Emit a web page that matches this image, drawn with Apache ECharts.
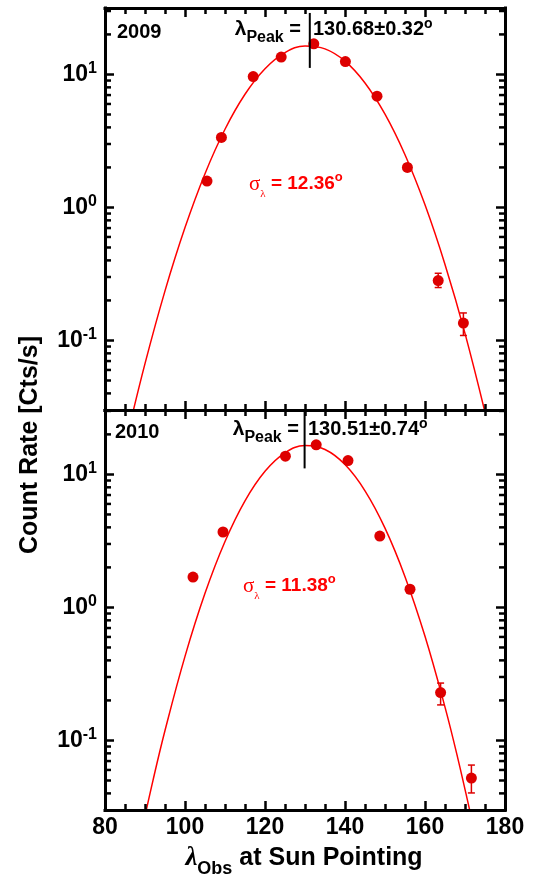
<!DOCTYPE html>
<html><head><meta charset="utf-8">
<script src="https://cdn.jsdelivr.net/npm/echarts@6/dist/echarts.min.js"></script>
<style>html,body{margin:0;padding:0;background:#fff}#c{width:533px;height:876px}</style>
</head><body><div id="c"></div>
<script>
// ---- data ----
const xTickValues = [80, 100, 120, 140, 160, 180];
const yDecadeLabels = ['10^-1', '10^0', '10^1'];

// 2009 panel
const x2009 = [105.5, 109.1, 117.05, 124.05, 132.2, 140.1, 148.0, 155.6, 163.3, 169.6];
const y2009 = [1.58, 3.36, 9.65, 13.5, 17.0, 12.5, 6.86, 2.0, 0.282, 0.135];
const lo2009 = [1.52, 3.26, 9.4, 13.2, 16.6, 12.2, 6.7, 1.88, 0.25, 0.109];
const hi2009 = [1.64, 3.46, 9.9, 13.8, 17.4, 12.8, 7.0, 2.12, 0.32, 0.161];
const fitX2009 = [86, 90, 95, 100, 105, 110, 115, 120, 125, 130, 135, 140, 145, 150, 155, 160, 165, 170, 176];
const fitY2009 = [0.0217, 0.0670, 0.236, 0.706, 1.795, 3.873, 7.096, 11.04, 14.59, 16.35, 15.56, 12.59, 8.63, 5.03, 2.49, 1.046, 0.373, 0.113, 0.0217];
const peakX2009 = 131.2;
const peakY2009 = [29.0, 11.2];

// 2010 panel
const x2010 = [102.0, 109.5, 125.1, 132.8, 140.75, 148.7, 156.25, 163.9, 171.6];
const y2010 = [1.69, 3.69, 13.7, 16.7, 12.7, 3.44, 1.37, 0.229, 0.0521];
const lo2010 = [1.63, 3.58, 13.4, 16.4, 12.4, 3.34, 1.31, 0.185, 0.0403];
const hi2010 = [1.75, 3.80, 14.0, 17.0, 13.0, 3.54, 1.43, 0.270, 0.0653];
const fitX2010 = [89, 92, 95, 100, 105, 110, 115, 120, 125, 130, 135, 140, 145, 150, 155, 160, 165, 168, 172];
const fitY2010 = [0.0197, 0.0501, 0.1187, 0.4285, 1.276, 3.130, 6.331, 10.56, 14.53, 16.47, 15.39, 11.86, 7.53, 3.947, 1.704, 0.6067, 0.1781, 0.0778, 0.02314];
const peakX2010 = 129.9;
const peakY2010 = [30.5, 11.1];

// ---- styling / layout ----
const F = "'Liberation Sans', Arial, Helvetica, sans-serif";
const SERIF = "'Liberation Serif', 'DejaVu Serif', serif";
const RED = '#ff0000';
const DOT = '#dd0000';
const yRanges = [[0.03, 31.6], [0.03, 30.5]];

function zip(a, b) { return a.map((v, i) => [v, b[i]]); }
function zip3(a, b, c) { return a.map((v, i) => [v, b[i], c[i]]); }

function axLine() { return { show: true, onZero: false, lineStyle: { color: '#000', width: 3, cap: 'square' } }; }

function xAxisDef(gridIndex, position, labels) {
  return {
    type: 'value', gridIndex, position, min: 80, max: 180, interval: 20, z: 10,
    axisLine: axLine(),
    axisTick: { show: true, inside: true, length: 9, lineStyle: { color: '#000', width: 2.5 } },
    minorTick: { show: true, splitNumber: 4, length: 6, lineStyle: { color: '#000', width: 2.5 } },
    splitLine: { show: false }, minorSplitLine: { show: false },
    axisLabel: labels ? { show: true, margin: 6, fontSize: 23, fontWeight: 'bold', fontFamily: F, color: '#000' } : { show: false }
  };
}
function yLabelFmt(v) {
  const e = Math.log10(v), r = Math.round(e);
  if (Math.abs(e - r) > 1e-6) return '';
  return '{b|10}{s|' + (r < 0 ? '-' : '') + Math.abs(r) + '}';
}
function yAxisDef(gridIndex, position, range, labels) {
  return {
    type: 'log', logBase: 10, gridIndex, position, min: range[0], max: range[1], z: 10,
    axisLine: axLine(),
    axisTick: { show: true, inside: true, length: 9, lineStyle: { color: '#000', width: 2.5 } },
    splitLine: { show: false },
    axisLabel: labels ? {
      show: true, margin: 8, formatter: yLabelFmt, showMinLabel: false, showMaxLabel: false,
      rich: {
        b: { fontSize: 23, fontWeight: 'bold', fontFamily: F, color: '#000' },
        s: { fontSize: 16, fontWeight: 'bold', fontFamily: F, color: '#000', padding: [0, 0, 12, 0] }
      }
    } : { show: false }
  };
}

function errorSeries(xi, yi, data) {
  return {
    type: 'custom', xAxisIndex: xi, yAxisIndex: yi, data, z: 3,
    encode: { x: 0, y: [1, 2] },
    renderItem: (params, api) => {
      const x = api.value(0);
      const p1 = api.coord([x, api.value(1)]), p2 = api.coord([x, api.value(2)]);
      const w = 3.5, st = { stroke: DOT, lineWidth: 1.5 };
      return { type: 'group', children: [
        { type: 'line', shape: { x1: p1[0], y1: p1[1], x2: p2[0], y2: p2[1] }, style: st },
        { type: 'line', shape: { x1: p1[0] - w, y1: p1[1], x2: p1[0] + w, y2: p1[1] }, style: st },
        { type: 'line', shape: { x1: p2[0] - w, y1: p2[1], x2: p2[0] + w, y2: p2[1] }, style: st }
      ] };
    }
  };
}
function panelSeries(xi, yi, fx, fy, px, py, lo, hi, peakX, peakY) {
  return [
    { type: 'line', xAxisIndex: xi, yAxisIndex: yi, data: zip(fx, fy), smooth: 0.4, showSymbol: false, clip: true,
      lineStyle: { color: RED, width: 1.5 }, z: 2 },
    errorSeries(xi, yi, zip3(px, lo, hi)),
    { type: 'scatter', xAxisIndex: xi, yAxisIndex: yi, data: zip(px, py), symbol: 'circle', symbolSize: 11,
      itemStyle: { color: DOT, opacity: 1 }, z: 4 },
    { type: 'line', xAxisIndex: xi, yAxisIndex: yi, data: [[peakX, peakY[0]], [peakX, peakY[1]]], showSymbol: false,
      lineStyle: { color: '#000', width: 2 }, z: 7 }
  ];
}

const mainRich = (color, size) => ({
  l: { fontSize: size + 1, fontWeight: 'bold', fontFamily: F, fill: color },
  sub: { fontSize: 16, fontWeight: 'bold', fontFamily: F, fill: color, padding: [18, 0, 0, 0] },
  m: { fontSize: size, fontWeight: 'bold', fontFamily: F, fill: color },
  sup: { fontSize: 14, fontWeight: 'bold', fontFamily: F, fill: color, padding: [0, 0, 9, 0] }
});
const sigmaRich = {
  g: { fontSize: 21, fontFamily: SERIF, fill: RED },
  gs: { fontSize: 11, fontFamily: SERIF, fill: RED, padding: [20, 0, 0, 0] },
  m: { fontSize: 19, fontWeight: 'bold', fontFamily: F, fill: RED },
  sup: { fontSize: 13, fontWeight: 'bold', fontFamily: F, fill: RED, padding: [0, 0, 14, 0] }
};

function txt(x, y, text, extra) {
  return { type: 'text', x, y, z: 100, style: Object.assign({ text, verticalAlign: 'middle' }, extra) };
}

const option = {
  animation: false,
  backgroundColor: '#fff',
  grid: [
    { left: 105, top: 8, width: 400, height: 402, show: false },
    { left: 105, top: 410, width: 400, height: 400, show: false }
  ],
  xAxis: [
    xAxisDef(0, 'bottom', false), xAxisDef(0, 'top', false),
    xAxisDef(1, 'bottom', true), xAxisDef(1, 'top', false)
  ],
  yAxis: [
    yAxisDef(0, 'left', yRanges[0], true), yAxisDef(0, 'right', yRanges[0], false),
    yAxisDef(1, 'left', yRanges[1], true), yAxisDef(1, 'right', yRanges[1], false)
  ],
  series: [].concat(
    panelSeries(0, 0, fitX2009, fitY2009, x2009, y2009, lo2009, hi2009, peakX2009, peakY2009),
    panelSeries(2, 2, fitX2010, fitY2010, x2010, y2010, lo2010, hi2010, peakX2010, peakY2010)
  )
};

const texts = [
  txt(117, 32, '2009', { font: 'bold 20px ' + F, fill: '#000' }),
  txt(115, 432, '2010', { font: 'bold 20px ' + F, fill: '#000' }),
  txt(301, 29, '{l|λ}{sub|Peak}{m| =}', { align: 'right', rich: mainRich('#000', 20) }),
  txt(313, 29, '{m|130.68±0.32}{sup|o}', { align: 'left', rich: mainRich('#000', 20) }),
  txt(299, 429, '{l|λ}{sub|Peak}{m| =}', { align: 'right', rich: mainRich('#000', 20) }),
  txt(308, 429, '{m|130.51±0.74}{sup|o}', { align: 'left', rich: mainRich('#000', 20) }),
  txt(249, 184, '{g|σ}{gs|λ}{m| = 12.36}{sup|o}', { align: 'left', rich: sigmaRich }),
  txt(243, 586, '{g|σ}{gs|λ}{m| = 11.38}{sup|o}', { align: 'left', rich: sigmaRich }),
  { type: 'text', x: 30, y: 445, rotation: Math.PI / 2, z: 100,
    style: { text: 'Count Rate [Cts/s]', align: 'center', verticalAlign: 'middle', font: 'bold 25px ' + F, fill: '#000' } },
  txt(304, 858, '{l|λ}{sub|Obs}{m| at Sun Pointing}', { align: 'center', rich: {
    l: { fontSize: 27, fontWeight: 'bold', fontStyle: 'italic', fontFamily: SERIF, fill: '#000' },
    sub: { fontSize: 18, fontWeight: 'bold', fontFamily: F, fill: '#000', padding: [22, 0, 0, 0] },
    m: { fontSize: 25, fontWeight: 'bold', fontFamily: F, fill: '#000' }
  } })
];

const chart = echarts.init(document.getElementById('c'), null, { renderer: 'canvas' });
chart.setOption(option);

// minor ticks of the log axes (2..9 per decade) on both sides, placed through the axes' own scales
const tickEls = [];
function seg(x1, y1, x2, y2) {
  tickEls.push({ type: 'line', z: 90, silent: true, shape: { x1, y1, x2, y2 }, style: { stroke: '#000', lineWidth: 2.5 } });
}
[[0, 0, yRanges[0]], [2, 2, yRanges[1]]].forEach(([xi, yi, range]) => {
  const xL = chart.convertToPixel({ xAxisIndex: xi }, 80), xR = chart.convertToPixel({ xAxisIndex: xi }, 180);
  [0.01, 0.1, 1, 10].forEach(d => {
    for (let k = 2; k <= 9; k++) {
      const v = +(k * d).toPrecision(3);
      if (v <= range[0] * 1.0001 || v >= range[1]) continue;
      const py = chart.convertToPixel({ yAxisIndex: yi }, v);
      seg(xL, py, xL + 6, py);
      seg(xR, py, xR - 6, py);
    }
  });
});

chart.setOption({ graphic: texts.concat(tickEls) });
</script>
</body></html>
